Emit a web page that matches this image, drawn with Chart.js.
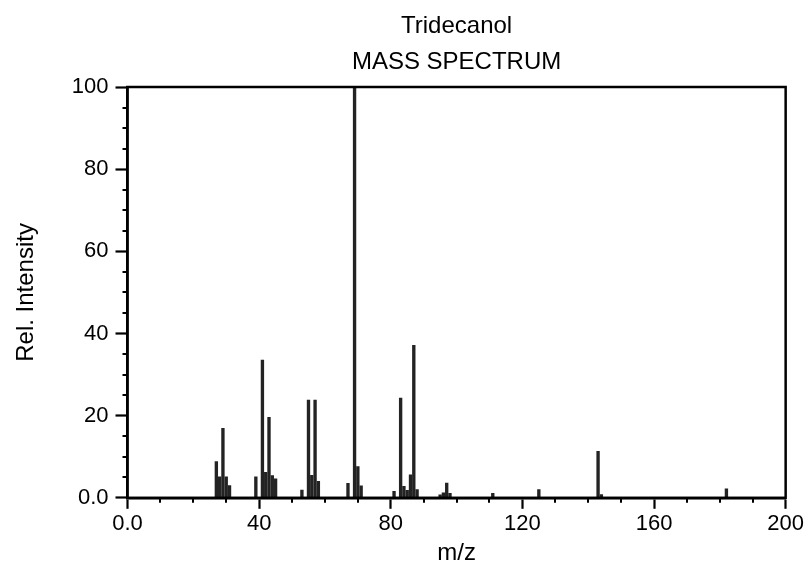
<!DOCTYPE html>
<html>
<head>
<meta charset="utf-8">
<script src="https://cdn.jsdelivr.net/npm/chart.js@4.4.0/dist/chart.umd.min.js"></script>
<style>
  html, body { margin: 0; padding: 0; background: #fff; }
  #wrap { width: 806px; height: 568px; }
</style>
</head>
<body>
<div id="wrap"><canvas id="chart_massSpectrum"></canvas></div>
<script>
// peaks (m/z, relative intensity %)
var mzValues = [27, 28, 29, 30, 31, 39, 41, 42, 43, 44, 45, 53, 55, 56, 57, 58,
                67, 69, 70, 71, 81, 83, 84, 85, 86, 87, 88, 95, 96, 97, 98,
                111, 125, 143, 144, 182];
var relIntensity = [8.8, 5.1, 16.9, 5.1, 3.0, 5.1, 33.5, 6.2, 19.6, 5.4, 4.6, 1.9, 23.8, 5.5, 23.8, 4.0,
                    3.5, 100, 7.6, 2.9, 1.6, 24.3, 2.8, 1.8, 5.6, 37.1, 2.0, 0.7, 1.2, 3.6, 1.1,
                    1.1, 2.0, 11.3, 0.8, 2.2];
var titleLines = ['Tridecanol', 'MASS SPECTRUM'];
var xTitle = 'm/z';
var yTitle = 'Rel. Intensity';
var xMajorStep = 40, xMinorStep = 10;
var yMajorStep = 20, yMinorStep = 5;

var fontFamily = "'Liberation Sans', Arial, sans-serif";

function tickLabel(v) {
  return v === 0 ? '0.0' : String(v);
}

var points = mzValues.map(function (m, i) { return { x: m, y: relIntensity[i] }; });

var chart_massSpectrum = new Chart(document.getElementById('chart_massSpectrum'), {
    type: 'bar',
    data: {
        datasets: [{
            label: 'Tridecanol',
            data: points,
            backgroundColor: '#232323',
            borderWidth: 0,
            barThickness: 2.7
        }]
    },
    options: {
        animation: false,
        responsive: true,
        maintainAspectRatio: false,
        layout: { padding: { top: 87, left: 12, right: 2, bottom: 0 } },
        plugins: {
            legend: { display: false },
            tooltip: { enabled: false },
            title: { display: false }
        },
        scales: {
            x: {
                type: 'linear',
                min: 0,
                max: 200,
                offset: false,
                border: { display: true, color: '#000', width: 2.5 },
                grid: { drawOnChartArea: false, offset: false, tickLength: 11, tickWidth: 2.2, tickColor: '#000' },
                ticks: {
                    stepSize: xMajorStep,
                    color: '#000',
                    padding: 2,
                    font: { family: fontFamily, size: 22 },
                    maxRotation: 0,
                    callback: function (v) { return tickLabel(v); }
                },
                title: {
                    display: true,
                    text: xTitle,
                    color: '#000',
                    padding: { top: 0, bottom: 0 },
                    font: { family: fontFamily, size: 24 }
                }
            },
            y: {
                min: 0,
                max: 100,
                border: { display: true, color: '#000', width: 2.5 },
                grid: { drawOnChartArea: false, tickLength: 12, tickWidth: 2.2, tickColor: '#000' },
                ticks: {
                    stepSize: yMajorStep,
                    color: '#000',
                    padding: 7,
                    font: { family: fontFamily, size: 22 },
                    callback: function (v) { return tickLabel(v); }
                },
                title: {
                    display: true,
                    text: yTitle,
                    color: '#000',
                    padding: { top: 0, bottom: 24 },
                    font: { family: fontFamily, size: 24 }
                }
            }
        }
    },
    plugins: [{
        id: 'frameAndMinorTicks',
        beforeDraw: function (chart) {
            var ctx = chart.ctx;
            ctx.save();
            ctx.fillStyle = 'white';
            ctx.fillRect(0, 0, chart.width, chart.height);
            ctx.restore();
        },
        afterDraw: function (chart) {
            var ctx = chart.ctx;
            var a = chart.chartArea;
            var xs = chart.scales.x, ys = chart.scales.y;
            ctx.save();
            ctx.strokeStyle = '#000';
            ctx.lineWidth = 2.5;
            ctx.strokeRect(a.left, a.top, a.right - a.left, a.bottom - a.top);

            ctx.lineWidth = 2;
            ctx.beginPath();
            for (var v = xs.min; v <= xs.max; v += xMinorStep) {
                if (v % xMajorStep === 0) continue;
                var px = Math.round(xs.getPixelForValue(v));
                ctx.moveTo(px, a.bottom);
                ctx.lineTo(px, a.bottom + 5);
            }
            for (var w = ys.min; w <= ys.max; w += yMinorStep) {
                if (w % yMajorStep === 0) continue;
                var py = Math.round(ys.getPixelForValue(w));
                ctx.moveTo(a.left, py);
                ctx.lineTo(a.left - 5, py);
            }
            ctx.stroke();

            // two-line heading centred over the plot area
            ctx.fillStyle = '#000';
            ctx.textAlign = 'center';
            ctx.textBaseline = 'middle';
            ctx.font = '24px ' + fontFamily;
            var cx = (a.left + a.right) / 2;
            ctx.fillText(titleLines[0], cx, 26);
            ctx.fillText(titleLines[1], cx, 62);
            ctx.restore();
        }
    }]
});
</script>
</body>
</html>
